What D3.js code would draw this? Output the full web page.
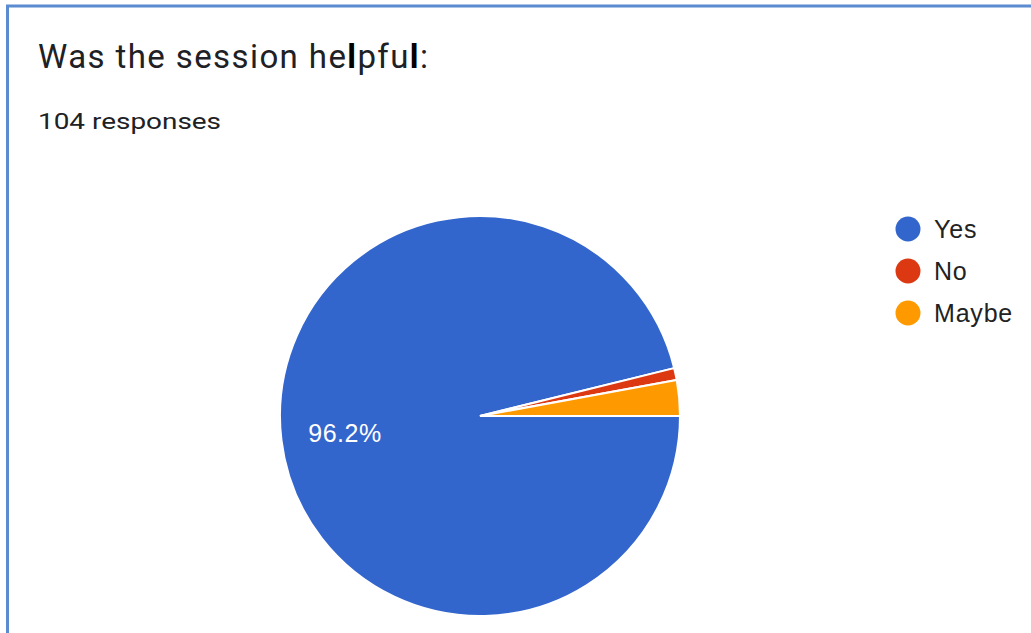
<!DOCTYPE html>
<html>
<head>
<meta charset="utf-8">
<script src="https://cdn.jsdelivr.net/npm/d3@7"></script>
<style>
  html, body { margin: 0; padding: 0; background: #fff; }
  svg { display: block; }
</style>
</head>
<body>
<svg id="chart" width="1031" height="633"></svg>
<script>
const categories = ["Yes", "No", "Maybe"];
const counts = [100, 1, 3];
const colors = ["#3366cc", "#dc3912", "#ff9900"];
const titleText = "Was the session helpful:";
const subtitleText = "104 responses";

const svg = d3.select("#chart");
const W = 1031, H = 633;

// frame
svg.append("line").attr("x1", 7.5).attr("x2", 7.5).attr("y1", 5).attr("y2", H)
  .attr("stroke", "#5b8bd0").attr("stroke-width", 3);
svg.append("line").attr("x1", 6).attr("x2", W).attr("y1", 6).attr("y2", 6)
  .attr("stroke", "#5b8bd0").attr("stroke-width", 3);

// title
const t = svg.append("text").attr("x", 38).attr("y", 68)
  .attr("font-family", "Roboto, 'Open Sans', sans-serif").attr("font-size", 33)
  .attr("letter-spacing", 1.4)
  .attr("fill", "#202124");
t.append("tspan").text("Was the session he");
t.append("tspan").text("l").attr("fill", "#000").attr("font-weight", "bold");
t.append("tspan").text("pfu");
t.append("tspan").text("l").attr("fill", "#000").attr("font-weight", "bold");
t.append("tspan").text(":");

svg.append("text").attr("x", 38).attr("y", 129)
  .attr("font-family", "Roboto, 'Open Sans', sans-serif").attr("font-size", 22)
  .attr("textLength", 183).attr("lengthAdjust", "spacingAndGlyphs")
  .attr("fill", "#202124").text(subtitleText);

// pie
const cx = 480, cy = 416, R = 200;
const data = categories.map((c, i) => ({ cat: c, v: counts[i], color: colors[i] }));
const pie = d3.pie().value(d => d.v).sort(null)
  .startAngle(Math.PI / 2).endAngle(Math.PI / 2 + 2 * Math.PI);
const arcs = pie(data);
const arc = d3.arc().innerRadius(0).outerRadius(R);
const labelArc = d3.arc().innerRadius(R * 0.68).outerRadius(R * 0.68);
const total = d3.sum(counts);

const g = svg.append("g").attr("transform", `translate(${cx},${cy})`);
g.selectAll("path").data(arcs).join("path")
  .attr("d", arc).attr("fill", d => d.data.color)
  .attr("stroke", "#fff").attr("stroke-width", 2);

g.selectAll("text.lbl").data(arcs.filter(d => d.data.v / total > 0.05)).join("text")
  .attr("class", "lbl")
  .attr("transform", d => `translate(${labelArc.centroid(d)})`)
  .attr("text-anchor", "middle").attr("dy", "0.38em")
  .attr("font-family", "Arial, 'Liberation Sans', sans-serif").attr("font-size", 25)
  .attr("letter-spacing", 0.5)
  .attr("fill", "#fff")
  .text(d => (d.data.v / total * 100).toFixed(1) + "%");

// legend
const lg = svg.append("g").attr("transform", "translate(908,229)");
const items = lg.selectAll("g").data(data).join("g")
  .attr("transform", (d, i) => `translate(0,${i * 42})`);
items.append("circle").attr("r", 12.5).attr("fill", d => d.color);
items.append("text").attr("x", 26).attr("dy", "0.36em")
  .attr("font-family", "Arial, 'Liberation Sans', sans-serif").attr("font-size", 25)
  .attr("letter-spacing", 0.8)
  .attr("fill", "#222").text(d => d.cat);
</script>
</body>
</html>
